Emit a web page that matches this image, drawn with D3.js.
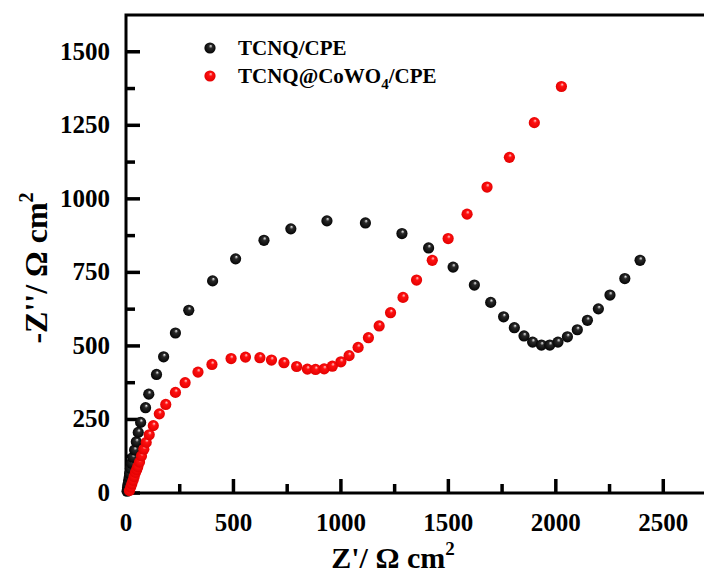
<!DOCTYPE html>
<html lang="en">
<head>
<meta charset="UTF-8">
<title>Nyquist plot</title>
<script src="https://d3js.org/d3.v7.min.js"></script>
<style>
  body { margin: 0; background: #fff; }
  svg { display: block; }
  text { font-family: "Liberation Serif", "Times New Roman", serif; font-weight: bold; fill: #000; }
  .tick-label { font-size: 25px; }
</style>
</head>
<body>
<div id="chart"></div>
<script>
// Impedance data, Z' and -Z'' in ohm cm^2
const seriesNames = ["TCNQ/CPE", "TCNQ@CoWO4/CPE"];

const blackZre = [5, 7, 9, 12, 15, 17, 21, 26, 32, 40, 48, 57, 68, 91, 106, 142, 175, 230, 292, 403, 510, 642, 767, 935, 1114, 1284, 1408, 1522, 1621, 1697, 1757, 1807, 1852, 1892, 1933, 1972, 2010, 2054, 2100, 2147, 2198, 2252, 2321, 2392];
const blackZim = [6, 18, 28, 41, 53, 66, 84, 101, 121, 146, 174, 206, 240, 290, 336, 403, 463, 544, 621, 721, 796, 859, 898, 925, 918, 882, 833, 768, 707, 648, 599, 562, 534, 513, 503, 503, 513, 531, 555, 587, 626, 673, 729, 791];

const redZre = [16, 22, 27, 33, 38, 44, 50, 55, 63, 72, 83, 94, 108, 127, 155, 185, 230, 275, 335, 400, 489, 556, 623, 677, 735, 794, 844, 882, 922, 960, 1000, 1038, 1080, 1128, 1178, 1231, 1289, 1352, 1425, 1499, 1587, 1680, 1784, 1900, 2026];
const redZim = [8, 20, 31, 43, 56, 70, 80, 90, 105, 126, 149, 172, 198, 229, 269, 301, 342, 375, 411, 437, 457, 462, 460, 452, 443, 430, 421, 420, 422, 431, 446, 467, 495, 528, 568, 613, 665, 724, 791, 865, 948, 1040, 1141, 1259, 1382];

const xTicks = [0, 500, 1000, 1500, 2000, 2500];
const xMinor = [250, 750, 1250, 1750, 2250];
const yTicks = [0, 250, 500, 750, 1000, 1250, 1500];
const yMinor = [125, 375, 625, 875, 1125, 1375];

const W = 704, H = 574;
const margin = { top: 15, left: 126, bottom: 81 };
const plotRight = 717;

const svg = d3.select("#chart").append("svg")
  .attr("width", W).attr("height", H);

const x = d3.scaleLinear().domain([0, 2750]).range([margin.left, plotRight]);
const y = d3.scaleLinear().domain([0, 1625]).range([H - margin.bottom, margin.top]);

// sphere-like marker fills
const defs = svg.append("defs");
function sphere(id, dark, mid, light) {
  const g = defs.append("radialGradient").attr("id", id)
    .attr("cx", "50%").attr("cy", "50%").attr("r", "55%")
    .attr("fx", "58%").attr("fy", "30%");
  g.append("stop").attr("offset", "0%").attr("stop-color", light);
  g.append("stop").attr("offset", "30%").attr("stop-color", mid);
  g.append("stop").attr("offset", "100%").attr("stop-color", dark);
}
sphere("ballBlack", "#000", "#2a2a2a", "#f4f4f4");
sphere("ballRed", "#e00000", "#ff1010", "#ffd0d0");

// frame
svg.append("rect")
  .attr("x", x(0)).attr("y", y(1625))
  .attr("width", plotRight - x(0)).attr("height", y(0) - y(1625))
  .attr("fill", "none").attr("stroke", "#000").attr("stroke-width", 3);

// inward ticks, drawn as filled bars
const ticks = svg.append("g").attr("fill", "#000");
const tw = 3.5;
function xTick(v, len) {
  ticks.append("rect").attr("x", x(v) - tw / 2).attr("y", y(0) - len)
    .attr("width", tw).attr("height", len);
}
function yTick(v, len) {
  ticks.append("rect").attr("x", x(0)).attr("y", y(v) - tw / 2)
    .attr("width", len).attr("height", tw);
}
xTicks.forEach(v => xTick(v, 14));
xMinor.forEach(v => xTick(v, 9));
yTicks.forEach(v => yTick(v, 14));
yMinor.forEach(v => yTick(v, 9));

// tick labels
svg.append("g").selectAll("text").data(xTicks).join("text")
  .attr("class", "tick-label")
  .attr("x", d => x(d)).attr("y", y(0) + 38)
  .attr("text-anchor", "middle")
  .text(d => d);
svg.append("g").selectAll("text").data(yTicks).join("text")
  .attr("class", "tick-label")
  .attr("x", x(0) - 16).attr("y", d => y(d) + 8)
  .attr("text-anchor", "end")
  .text(d => d);

// data points
const rBall = 5.6;
function drawSeries(xs, ys, fill) {
  svg.append("g").selectAll("circle")
    .data(xs.map((v, i) => [v, ys[i]]))
    .join("circle")
    .attr("cx", d => x(d[0]))
    .attr("cy", d => y(d[1]))
    .attr("r", rBall)
    .attr("fill", fill);
}
drawSeries(blackZre, blackZim, "url(#ballBlack)");
drawSeries(redZre, redZim, "url(#ballRed)");

// legend
const legend = svg.append("g").attr("transform", "translate(210,48)");
const fills = ["url(#ballBlack)", "url(#ballRed)"];
seriesNames.forEach((name, i) => {
  const row = legend.append("g").attr("transform", `translate(0,${i * 28})`);
  row.append("circle").attr("r", rBall).attr("fill", fills[i]);
  const t = row.append("text").attr("x", 28).attr("y", 7).style("font-size", "21px");
  if (name.includes("CoWO4")) {
    t.append("tspan").text("TCNQ@CoWO");
    t.append("tspan").text("4").attr("dy", 6).style("font-size", "15px");
    t.append("tspan").text("/CPE").attr("dy", -6);
  } else {
    t.text(name);
  }
});

// axis titles
const xt = svg.append("text").attr("x", 393).attr("y", 568)
  .attr("text-anchor", "middle").style("font-size", "30px");
xt.append("tspan").text("Z'/ Ω cm");
xt.append("tspan").text("2").attr("dy", -13).style("font-size", "19px");

const yt = svg.append("text")
  .attr("transform", "translate(47,268) rotate(-90)")
  .attr("text-anchor", "middle").style("font-size", "32px");
yt.append("tspan").text("-Z''/ Ω cm");
yt.append("tspan").text("2").attr("dy", -14).style("font-size", "20px");
</script>
</body>
</html>
